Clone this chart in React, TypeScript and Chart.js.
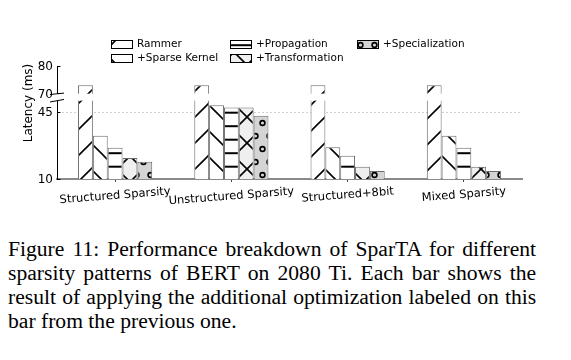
import React, { useEffect, useRef } from 'react';
import { Chart, registerables } from 'chart.js';

Chart.register(...registerables);

// ---------------- data ----------------
const categories = ['Structured Sparsity', 'Unstructured Sparsity', 'Structured+8bit', 'Mixed Sparsity'];
const seriesNames = ['Rammer', '+Sparse Kernel', '+Propagation', '+Transformation', '+Specialization'];
const rammer = [73, 73, 73, 73];
const sparseKernel = [32.4, 48.3, 26.4, 32.4];
const propagation = [26.2, 47.1, 22.1, 26.2];
const transformation = [20.9, 47.1, 16.4, 16.4];
const specialization = [19.0, 42.8, 14.1, 14.1];
const yTickValues = [10, 45, 70, 80];
const yTitle = 'Latency (ms)';
const captionLines = [
  'Figure 11: Performance breakdown of SparTA for different',
  'sparsity patterns of BERT on 2080 Ti. Each bar shows the',
  'result of applying the additional optimization labeled on this',
  'bar from the previous one.',
];

// ------------- broken axis mapping -------------
const LOWER_MAX = 50;
const UPPER_MIN = 70;
const UPPER_BASE = 54.39;
const UPPER_SCALE = 1.4207;
const t = (v: number) => (v <= LOWER_MAX ? v : UPPER_BASE + (v - UPPER_MIN) * UPPER_SCALE);
const Y_MIN = 10;
const Y_MAX = t(80);

// ------------- patterns -------------
function makePattern(kind: string): CanvasPattern | string {
  const c = document.createElement('canvas');
  let w = 26, h = 26;
  if (kind === 'h') { w = 8; h = 27; }
  if (kind === 'o') { w = 14; h = 26; }
  c.width = w; c.height = h;
  const g = c.getContext('2d')!;
  const bg: Record<string, string> = { '/': '#ffffff', '\\': '#ffffff', h: '#ffffff', x: '#efefef', o: '#d4d4d4' };
  g.fillStyle = bg[kind];
  g.fillRect(0, 0, w, h);
  g.strokeStyle = '#000';
  g.lineWidth = 1.6;
  const line = (a: number, b: number, c2: number, d: number) => { g.beginPath(); g.moveTo(a, b); g.lineTo(c2, d); g.stroke(); };
  if (kind === '/' || kind === 'x') {
    line(-2, h + 2, w + 2, -2);
    line(-3, 3, 3, -3);
    line(w - 3, h + 3, w + 3, h - 3);
  }
  if (kind === '\\' || kind === 'x') {
    line(-2, -2, w + 2, h + 2);
    line(-3, h - 3, 3, h + 3);
    line(w - 3, -3, w + 3, 3);
  }
  if (kind === 'h') {
    g.lineWidth = 2;
    line(0, 4.7, w, 4.7);
    line(0, 18.2, w, 18.2);
  }
  if (kind === 'o') {
    g.lineWidth = 1.6;
    g.beginPath(); g.arc(3.5, 6, 2.4, 0, Math.PI * 2); g.stroke();
    g.beginPath(); g.arc(10.5, 19, 2.4, 0, Math.PI * 2); g.stroke();
  }
  return g.createPattern(c, 'repeat') || bg[kind];
}

const FONT = '"DejaVu Sans", sans-serif';

export default function App() {
  const ref = useRef<HTMLCanvasElement | null>(null);

  useEffect(() => {
    if (!ref.current) return;
    const kinds = ['/', '\\', 'h', 'x', 'o'];
    const pats = kinds.map(makePattern);
    const values = [rammer, sparseKernel, propagation, transformation, specialization];

    const decor = {
      id: 'decor',
      beforeDatasetsDraw(chart: any) {
        const { ctx, chartArea, scales } = chart;
        const py = Math.round(scales.y.getPixelForValue(t(45))) + 0.5;
        ctx.save();
        ctx.strokeStyle = '#d0d0d0';
        ctx.lineWidth = 1;
        ctx.setLineDash([2, 2]);
        ctx.beginPath();
        ctx.moveTo(chartArea.left + 1, py);
        ctx.lineTo(chartArea.right - 2, py);
        ctx.stroke();
        ctx.restore();
      },
      afterDatasetsDraw(chart: any) {
        const { ctx, chartArea, scales } = chart;
        const y = scales.y;
        const x = scales.x;
        ctx.save();
        // break gap
        const gTop = y.getPixelForValue(t(UPPER_MIN)) + 0.3;
        const gBot = y.getPixelForValue(LOWER_MAX) - 1.2;
        ctx.fillStyle = '#ffffff';
        ctx.fillRect(chartArea.left - 1, gTop, chartArea.right - chartArea.left + 2, gBot - gTop);
        // break marks
        ctx.strokeStyle = '#000';
        ctx.lineWidth = 1;
        const L = chartArea.left;
        ctx.beginPath(); ctx.moveTo(L - 7, gTop + 0.8); ctx.lineTo(L + 7, gTop - 0.6); ctx.stroke();
        ctx.beginPath(); ctx.moveTo(L - 7, gBot + 1.3); ctx.lineTo(L + 7, gBot - 1.2); ctx.stroke();
        // inward y ticks
        yTickValues.forEach((v) => {
          const py = Math.round(y.getPixelForValue(t(v))) + 0.5;
          ctx.beginPath(); ctx.moveTo(L, py); ctx.lineTo(L + 3.5, py); ctx.stroke();
        });
        // y tick labels
        ctx.fillStyle = '#000';
        ctx.font = `12px ${FONT}`;
        ctx.textAlign = 'right';
        ctx.textBaseline = 'middle';
        yTickValues.forEach((v) => {
          ctx.fillText(String(v), L - 4, y.getPixelForValue(t(v)) + 1);
        });
        // y title
        ctx.save();
        ctx.translate(29, 103);
        ctx.rotate(-Math.PI / 2);
        ctx.textAlign = 'center';
        ctx.textBaseline = 'middle';
        ctx.font = `12px ${FONT}`;
        ctx.fillText(yTitle, 0, 0);
        ctx.restore();
        // x labels, rotated slightly
        const ang = (4.5 * Math.PI) / 180;
        ctx.font = `11.5px ${FONT}`;
        categories.forEach((lab, i) => {
          const cx = x.getPixelForValue(i);
          const w = ctx.measureText(lab).width;
          const hh = 13;
          const bh = w * Math.sin(ang) + hh * Math.cos(ang);
          const cy = 185 + bh / 2;
          ctx.save();
          ctx.translate(cx, cy);
          ctx.rotate(-ang);
          ctx.textAlign = 'center';
          ctx.textBaseline = 'middle';
          ctx.fillText(lab, 0, 0);
          ctx.restore();
        });
        // legend (3 columns, column-major)
        const cols = [111, 230, 357];
        const rows = [44, 58];
        ctx.font = `10.5px ${FONT}`;
        ctx.textAlign = 'left';
        ctx.textBaseline = 'middle';
        seriesNames.forEach((name, i) => {
          const col = Math.floor(i / 2);
          const row = i % 2;
          const bx = cols[col];
          const by = rows[row];
          ctx.fillStyle = pats[i] as any;
          ctx.fillRect(bx, by - 4, 22, 8);
          ctx.strokeStyle = '#000';
          ctx.lineWidth = 1;
          ctx.strokeRect(bx + 0.5, by - 4 + 0.5, 21, 8);
          ctx.fillStyle = '#000';
          ctx.fillText(name, bx + 26, by + 0.5);
        });
        ctx.restore();
      },
    };

    const chart = new Chart(ref.current, {
      type: 'bar',
      data: {
        labels: categories,
        datasets: seriesNames.map((name, i) => ({
          label: name,
          data: values[i].map(t),
          backgroundColor: pats[i] as any,
          borderColor: '#6a6a6a',
          borderWidth: 1,
          categoryPercentage: 0.638,
          barPercentage: 1,
        })),
      },
      options: {
        animation: false,
        responsive: false,
        devicePixelRatio: 1,
        layout: { padding: { top: 66, right: 49, left: 0, bottom: 0 } },
        plugins: { legend: { display: false }, tooltip: { enabled: false } },
        scales: {
          x: {
            grid: { display: true, drawOnChartArea: false, drawTicks: true, tickLength: 3, offset: false, color: '#444' },
            border: { display: true, color: '#8a8a8a', width: 2 },
            ticks: { display: false },
            afterFit: (s: any) => { s.height = 46; },
          },
          y: {
            min: Y_MIN,
            max: Y_MAX,
            grid: { display: false },
            border: { display: true, color: '#000', width: 1 },
            ticks: { display: false },
            afterFit: (s: any) => { s.width = 57; },
          },
        },
      },
      plugins: [decor],
    });
    return () => chart.destroy();
  }, []);

  return (
    <div style={{ position: 'absolute', left: 0, top: 0, width: 571, height: 360, background: '#fff' }}>
      <canvas ref={ref} width={571} height={225} style={{ display: 'block' }} />
      <div
        style={{
          position: 'absolute',
          left: 8,
          top: 237,
          width: 489,
          transform: 'scaleX(1.08)',
          transformOrigin: '0 0',
          fontFamily: '"Liberation Serif", "Times New Roman", serif',
          fontSize: 20,
          lineHeight: '24px',
          color: '#000',
        }}
      >
        {captionLines.map((ln, i) => (
          <div
            key={i}
            style={{
              whiteSpace: 'nowrap',
              textAlign: i < captionLines.length - 1 ? 'justify' : 'left',
              textAlignLast: i < captionLines.length - 1 ? 'justify' : 'left',
            } as any}
          >
            {ln}
          </div>
        ))}
      </div>
    </div>
  );
}
